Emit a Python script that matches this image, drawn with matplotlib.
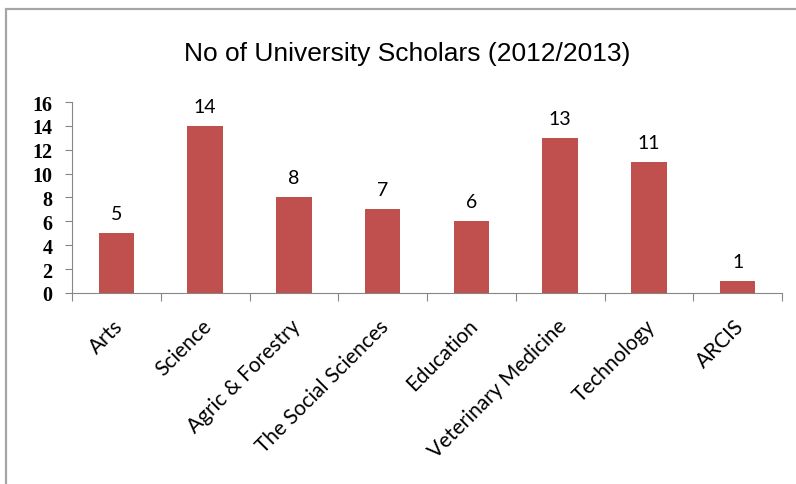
import numpy as np
import matplotlib.pyplot as plt
from matplotlib.patches import Rectangle
from matplotlib.transforms import ScaledTranslation

faculties = ['Arts', 'Science', 'Agric & Forestry', 'The Social Sciences',
             'Education', 'Veterinary Medicine', 'Technology', 'ARCIS']
scholars = [5, 14, 8, 7, 6, 13, 11, 1]
y_ticks = [0, 2, 4, 6, 8, 10, 12, 14, 16]

bar_color = '#C0504D'
axis_color = '#868686'

fig = plt.figure(figsize=(7.96, 4.85), dpi=100)
ax = fig.add_axes([0.0905, 0.394, 0.892, 0.3935])

x = np.arange(len(faculties))
bars = ax.bar(x, scholars, width=0.4, color=bar_color)

# value labels above each bar
for rect, val in zip(bars, scholars):
    ax.annotate(str(val), (rect.get_x() + rect.get_width() / 2, rect.get_height()),
                xytext=(0, 8), textcoords='offset points', ha='center', va='bottom',
                fontsize=14, family='Lato', color='black')

ax.set_xlim(-0.5, len(faculties) - 0.5)
ax.set_ylim(0, 16)
ax.set_yticks(y_ticks)
ax.set_yticklabels([str(v) for v in y_ticks], family='Liberation Serif',
                   fontweight='bold', fontsize=14.5)

# category ticks sit on the boundaries between bars
ax.set_xticks(np.arange(-0.5, len(faculties), 1.0))
ax.set_xticklabels([])
ax.set_xticks(x, minor=True)
ax.set_xticklabels(faculties, minor=True, rotation=45, ha='right',
                   rotation_mode='anchor', family='Lato', fontsize=15)
ax.tick_params(axis='x', which='minor', length=0, pad=14)
ax.tick_params(axis='x', which='major', length=6, color=axis_color)
ax.tick_params(axis='y', length=5, color=axis_color, pad=9)

# nudge the slanted category names a little left and down
shift = ScaledTranslation(-4 / 100, -3 / 100, fig.dpi_scale_trans)
for lbl in ax.get_xticklabels(minor=True):
    lbl.set_transform(lbl.get_transform() + shift)

for side in ['top', 'right']:
    ax.spines[side].set_visible(False)
for side in ['left', 'bottom']:
    ax.spines[side].set_color(axis_color)

fig.text(0.512, 0.889, 'No of University Scholars (2012/2013)', ha='center',
         va='center', fontsize=19, family='Liberation Sans')

# outer chart frame
fig.patches.append(Rectangle((6 / 796, -0.1), 1.2, 1.1 - 10 / 485,
                             transform=fig.transFigure, fill=False,
                             edgecolor='#a6a6a6', linewidth=1.6))

fig.savefig('out.png', dpi=100, facecolor='white')
